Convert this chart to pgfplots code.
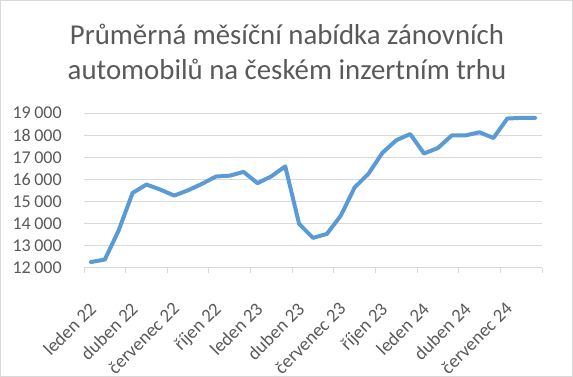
\documentclass[border=0pt]{standalone}
\usepackage{fontspec}
\setmainfont{Carlito}
\usepackage{pgfplots}
\pgfplotsset{compat=1.18}
\definecolor{linec}{HTML}{5B9BD5}
\definecolor{gridc}{HTML}{D9D9D9}
\definecolor{txt}{HTML}{595959}
\begin{document}
\begin{tikzpicture}[x=0.75pt,y=0.75pt]
\begin{axis}[
  at={(63pt,81.75pt)}, anchor=south west,
  scale only axis, width=343.5pt, height=116.25pt,
  xmin=-0.5, xmax=32.5, ymin=12000, ymax=19000,
  ytick={12000,13000,...,19000},
  scaled y ticks=false,
  yticklabel={\pgfmathprintnumber[fixed,precision=0]{\tick}},
  ymajorgrids, grid style={gridc, line width=0.75pt},
  separate axis lines,
  axis x line*=bottom, axis y line*=left,
  x axis line style={gridc, line width=0.75pt, -},
  y axis line style={draw=none},
  xtick={-0.5,2.5,...,32.5}, xticklabels={},
  xtick style={gridc, line width=0.75pt},
  tick align=outside, major tick length=3.75pt,
  ytick style={draw=none},
  extra x ticks={0,3,...,30},
  extra x tick labels={leden 22,duben 22,červenec 22,říjen 22,leden 23,duben 23,červenec 23,říjen 23,leden 24,duben 24,červenec 24},
  extra x tick style={major tick length=0pt},
  xticklabel style={rotate=45, anchor=north east, inner sep=0pt, yshift=-16pt, xshift=-19pt, txt, font=\fontsize{14}{16}\selectfont},
  yticklabel style={anchor=east, inner sep=0pt, xshift=-12.75pt, txt, font=\fontsize{13.5}{16}\selectfont},
  /pgf/number format/assume math mode=true,
  /pgf/number format/1000 sep={\hspace{0.2em}},
]
\addplot[linec, line width=3pt, line join=round, line cap=round] coordinates {
(0,12270) (1,12380) (2,13700) (3,15390) (4,15770) (5,15540) (6,15270) (7,15510)
(8,15800) (9,16130) (10,16170) (11,16340) (12,15830) (13,16140) (14,16590) (15,13990)
(16,13360) (17,13540) (18,14360) (19,15640) (20,16260) (21,17200) (22,17770) (23,18050)
(24,17170) (25,17420) (26,17990) (27,17990) (28,18130) (29,17870) (30,18750) (31,18780) (32,18780)
};
\end{axis}
\node[anchor=base, txt, font=\fontsize{21.6}{26}\selectfont] at (287,332) {Průměrná měsíční nabídka zánovních};
\node[anchor=base, txt, font=\fontsize{21.6}{26}\selectfont] at (287,297) {automobilů na českém inzertním trhu};
\draw[gridc, line width=0.75pt] (0.5,0.5) rectangle (572.5,376.5);
\pgfresetboundingbox
\useasboundingbox (0,0) rectangle (573,377);
\end{tikzpicture}
\end{document}
